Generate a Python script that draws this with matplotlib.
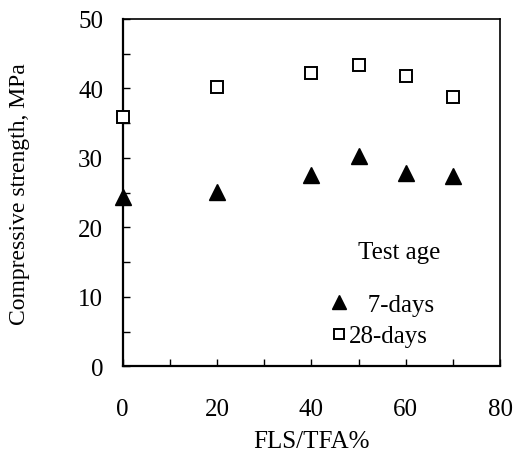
import matplotlib
matplotlib.use("Agg")
import matplotlib.pyplot as plt
from matplotlib.ticker import MultipleLocator

plt.rcParams['font.family'] = ['Liberation Serif', 'DejaVu Serif']

fls_tfa = [0, 20, 40, 50, 60, 70]
strength_7d = [24.4, 25.1, 27.6, 30.3, 27.8, 27.4]
strength_28d = [35.9, 40.2, 42.25, 43.4, 41.8, 38.7]
legend_labels = ["\u2007 7-days", "28-days"]
legend_title = "Test age"

fig = plt.figure(figsize=(5.13, 4.52), dpi=100)
ax = fig.add_axes([0.239, 0.187, 0.736, 0.769])

fs = 18
h7, = ax.plot(fls_tfa, strength_7d, linestyle='none', marker='^', markersize=11.5,
              color='black', clip_on=False, zorder=3)
h28, = ax.plot(fls_tfa, strength_28d, linestyle='none', marker='s', markersize=8.5,
               markerfacecolor='white', markeredgecolor='black', markeredgewidth=1.4,
               clip_on=False, zorder=3)

ax.set_xlim(0, 80)
ax.set_ylim(0, 50)
ax.xaxis.set_major_locator(MultipleLocator(20))
ax.xaxis.set_minor_locator(MultipleLocator(10))
ax.yaxis.set_major_locator(MultipleLocator(10))
ax.yaxis.set_minor_locator(MultipleLocator(5))
ax.tick_params(which='both', direction='in', length=5, width=1, top=False, right=False)
ax.tick_params(axis='x', which='major', pad=23, labelsize=fs)
ax.tick_params(axis='y', which='major', pad=14, labelsize=fs)
for s in ax.spines.values():
    s.set_linewidth(1.2)
ax.spines['left'].set_linewidth(1.6)
ax.spines['bottom'].set_linewidth(1.6)

ax.set_xlabel("FLS/TFA%", fontsize=fs, labelpad=7)
ax.set_ylabel("Compressive strength, MPa", fontsize=17)
ax.yaxis.set_label_coords(-0.245, 0.5)

ax.text(0.732, 0.329, legend_title, transform=ax.transAxes, fontsize=fs,
        ha='center', va='center')
leg = ax.legend([h7, h28], legend_labels, loc='center left', bbox_to_anchor=(0.5526, 0.133),
                frameon=False, fontsize=fs, borderpad=0, borderaxespad=0,
                handlelength=0.6, handletextpad=0.1, labelspacing=0.37,
                markerscale=0.9)

fig.savefig("out.png", dpi=100)
